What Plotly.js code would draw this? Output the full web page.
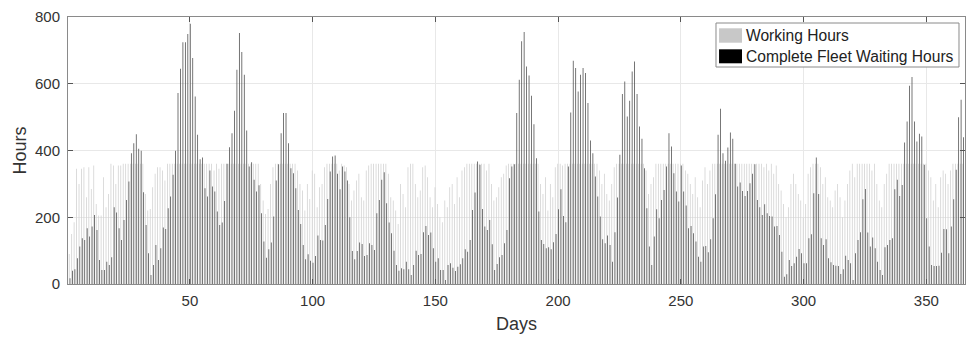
<!DOCTYPE html>
<html>
<head>
<meta charset="utf-8">
<script src="https://cdn.plot.ly/plotly-3.0.1.min.js"></script>
<style>html,body{margin:0;padding:0;background:#fff;}#chart{width:966px;height:337px;}</style>
</head>
<body>
<div id="chart"></div>
<script>
// Working hours per day (light gray)
const workingHours = [
  90,150,185,345,300,345,350,260,350,285,
  355,240,205,205,320,230,270,360,355,300,
  355,355,360,360,360,360,360,360,360,360,
  360,270,220,225,290,330,350,350,340,310,
  360,360,360,360,360,360,360,360,360,360,
  360,360,360,360,360,360,360,360,360,340,
  360,345,360,360,360,360,360,360,360,360,
  360,360,360,360,360,360,360,360,300,250,
  210,225,300,350,360,360,360,360,360,360,
  360,360,360,340,300,280,220,300,255,340,
  330,230,290,300,350,360,360,360,360,360,
  340,360,355,350,300,250,280,310,330,260,
  250,340,355,360,360,360,360,360,360,360,
  330,260,250,220,180,300,270,230,350,360,
  360,300,260,280,350,355,320,260,230,290,
  240,200,185,250,230,290,300,240,320,260,
  340,350,360,360,360,360,360,360,360,360,
  340,360,300,250,260,290,320,330,355,360,
  360,360,360,360,360,360,360,360,360,360,
  360,360,300,270,320,220,300,260,350,360,
  360,355,360,360,360,360,360,360,360,360,
  360,360,360,360,360,360,340,300,330,270,
  250,300,350,360,360,360,360,360,360,360,
  360,360,360,360,360,340,270,300,320,360,
  360,360,360,360,360,360,360,360,360,360,
  360,340,330,300,270,320,260,230,310,350,
  300,340,360,360,360,360,360,360,360,360,
  360,360,360,360,360,360,360,360,360,360,
  360,360,360,350,360,340,360,330,355,300,
  280,240,200,230,300,330,300,270,250,200,
  240,330,350,360,360,360,350,300,320,260,
  250,230,280,300,260,200,250,300,340,360,
  320,360,360,360,360,360,360,340,360,300,
  250,230,300,330,360,360,360,360,360,360,
  360,360,360,360,360,360,360,360,360,360,
  340,320,250,300,230,320,340,330,300,340,
  360,360,360,360,360
];
// Complete fleet waiting hours per day (black)
const waitingHours = [
  17,40,44,77,112,137,132,167,142,172,
  207,162,72,42,42,67,57,80,230,214,
  167,132,192,252,307,392,422,449,405,399,
  275,177,92,27,57,117,72,107,169,165,
  227,262,327,399,572,645,724,724,749,780,
  677,562,447,374,379,287,262,340,292,277,
  217,177,184,249,360,410,452,519,642,752,
  695,627,460,352,365,312,277,296,212,127,
  79,104,124,202,310,359,452,512,512,422,
  347,332,287,222,180,117,74,89,70,64,
  84,145,132,130,177,255,337,382,385,330,
  284,352,337,310,200,99,74,99,124,120,
  84,87,122,117,102,212,252,312,335,242,
  184,152,100,57,40,47,44,67,44,27,
  57,100,87,90,155,174,147,154,107,67,
  77,42,42,12,57,62,49,39,52,59,
  77,104,97,132,222,274,367,357,225,172,
  162,192,119,42,60,80,87,122,162,317,
  352,359,512,612,727,755,652,625,564,479,
  377,217,132,120,107,110,104,125,150,224,
  284,204,185,352,514,669,647,577,627,647,
  632,542,430,392,322,262,202,134,122,145,
  117,67,155,259,387,569,607,502,549,637,
  667,569,472,435,347,227,112,57,142,224,
  197,252,282,352,452,412,332,277,247,355,
  277,235,167,174,152,127,82,67,112,114,
  95,134,197,269,447,525,392,369,409,454,
  435,360,292,304,279,264,279,302,330,359,
  252,230,207,239,212,204,202,172,174,147,
  97,22,29,72,54,62,82,105,92,62,
  62,137,149,272,379,270,137,117,134,77,
  65,57,55,54,30,44,85,72,62,12,
  92,132,155,254,285,154,112,139,107,67,
  42,27,110,117,132,137,284,312,264,297,
  424,487,594,620,487,427,450,442,357,197,
  112,57,54,54,55,94,165,164,92,172,
  254,342,500,552,440
];
const days = workingHours.map((_, i) => i + 1);
const xTicks = [50, 100, 150, 200, 250, 300, 350];
const yTicks = [0, 200, 400, 600, 800];
const seriesNames = ['Working Hours', 'Complete Fleet Waiting Hours'];
const swatchColors = ['#c8c8c8', '#000000'];

const font = '"Liberation Sans", Arial, Helvetica, sans-serif';

const traces = [
  {type: 'bar', name: seriesNames[0], x: days, y: workingHours,
   marker: {color: '#d2d2d2', line: {width: 0}}, hoverinfo: 'x+y'},
  {type: 'bar', name: seriesNames[1], x: days, y: waitingHours,
   marker: {color: '#505050', line: {width: 0}}, hoverinfo: 'x+y'}
];

// legend drawn as box + swatches + text (paper coordinates)
const shapes = [
  {type: 'rect', xref: 'paper', yref: 'paper', x0: 0.7224, x1: 0.9933, y0: 0.8127, y1: 0.9775,
   line: {color: '#8a8a8a', width: 1}, fillcolor: '#ffffff', layer: 'above'},
  {type: 'rect', xref: 'paper', yref: 'paper', x0: 0.7258, x1: 0.7514, y0: 0.9037, y1: 0.9577,
   line: {width: 0}, fillcolor: swatchColors[0], layer: 'above'},
  {type: 'rect', xref: 'paper', yref: 'paper', x0: 0.7258, x1: 0.7514, y0: 0.8266, y1: 0.8790,
   line: {width: 0}, fillcolor: swatchColors[1], layer: 'above'}
];
const annotations = [
  {xref: 'paper', yref: 'paper', x: 0.7535, y: 0.9307, xanchor: 'left', yanchor: 'middle',
   text: seriesNames[0], showarrow: false, font: {family: font, size: 15.6, color: '#222'}},
  {xref: 'paper', yref: 'paper', x: 0.7535, y: 0.8528, xanchor: 'left', yanchor: 'middle',
   text: seriesNames[1], showarrow: false, font: {family: font, size: 15.6, color: '#222'}}
];

const axisCommon = {
  showgrid: true, gridcolor: '#e8e8e8', gridwidth: 1,
  showline: true, linecolor: '#8a8a8a', linewidth: 1, mirror: 'ticks',
  ticks: 'inside', ticklen: 5, tickcolor: '#555', tickwidth: 1,
  zeroline: false, automargin: false,
  tickfont: {family: font, size: 15, color: '#333'}
};

const layout = {
  width: 966, height: 337,
  margin: {l: 68, r: 1, t: 17, b: 53},
  paper_bgcolor: '#fff', plot_bgcolor: '#fff',
  barmode: 'group', bargap: 0.36, bargroupgap: 0,
  font: {family: font, color: '#333'},
  showlegend: false,
  shapes: shapes,
  annotations: annotations,
  xaxis: Object.assign({}, axisCommon, {
    range: [0.35, 365.75], tickmode: 'array', tickvals: xTicks,
    ticklabelstandoff: 3,
    title: {text: 'Days', font: {family: font, size: 18, color: '#333'}, standoff: 9}
  }),
  yaxis: Object.assign({}, axisCommon, {
    range: [0, 800], tickmode: 'array', tickvals: yTicks,
    ticklabelstandoff: 4,
    title: {text: 'Hours', font: {family: font, size: 18, color: '#333'}, standoff: 3}
  })
};

Plotly.newPlot('chart', traces, layout, {displayModeBar: false, staticPlot: true});
</script>
</body>
</html>
